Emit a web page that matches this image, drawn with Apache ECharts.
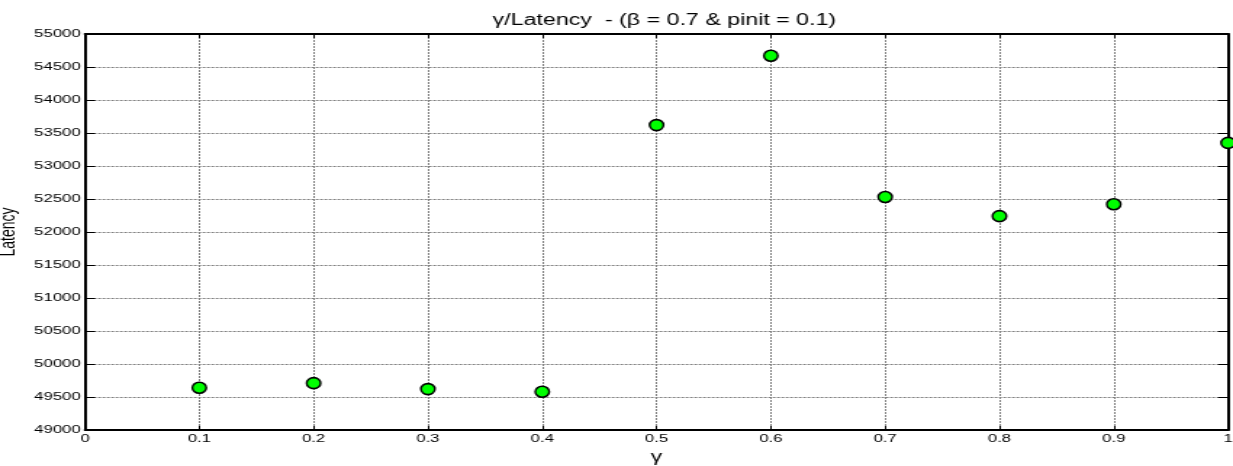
<!DOCTYPE html>
<html>
<head>
<meta charset="utf-8">
<script src="https://cdn.jsdelivr.net/npm/echarts@6/dist/echarts.min.js"></script>
<style>
html,body{margin:0;padding:0;background:#fff;overflow:hidden;}
/* the figure is drawn on a narrower canvas and stretched horizontally */
#chart{width:850px;height:466px;transform:scaleX(1.4506);transform-origin:0 0;}
</style>
</head>
<body>
<div id="chart"></div>
<script>
// Latency measured for each γ value (β = 0.7, pinit = 0.1)
const gammaValues = [0.1, 0.2, 0.3, 0.4, 0.5, 0.6, 0.7, 0.8, 0.9, 1.0];
const latencyValues = [49640, 49710, 49620, 49580, 53620, 54670, 52530, 52240, 52420, 53350];

const font = 'Liberation Sans, Arial, sans-serif';
const chart = echarts.init(document.getElementById('chart'));

const gridLine = { show: true, lineStyle: { color: '#808080', width: 1, type: [2, 1] } };
const axisLine = { show: true, onZero: false, lineStyle: { color: '#000', width: 2 } };
const tick = len => ({ show: true, inside: true, length: len, lineStyle: { color: '#000', width: 1 } });

chart.setOption({
  animation: false,
  backgroundColor: '#fff',
  title: {
    text: 'γ/Latency  - (β = 0.7 & pinit = 0.1)',
    left: 453, top: 8, textAlign: 'center',
    textStyle: { fontFamily: font, fontSize: 16, fontWeight: 'normal', color: '#000' }
  },
  grid: { left: 58.6, right: 3.4, top: 34, bottom: 36, containLabel: false, outerBoundsMode: 'none' },
  xAxis: [{
    type: 'value', min: 0, max: 1, interval: 0.1,
    name: 'γ', nameLocation: 'middle', nameGap: 16,
    nameTextStyle: { fontFamily: font, fontSize: 16, color: '#000' },
    axisLine: axisLine,
    axisTick: tick(4),
    axisLabel: { fontFamily: font, fontSize: 11.5, color: '#000', margin: 3,
      formatter: v => (Math.round(v * 10) / 10).toString() },
    splitLine: gridLine
  }, {
    type: 'value', min: 0, max: 1, interval: 0.1, position: 'top',
    axisLine: axisLine,
    axisTick: tick(4),
    axisLabel: { show: false }, splitLine: { show: false }
  }],
  yAxis: [{
    type: 'value', min: 49000, max: 55000, interval: 500,
    name: 'Latency', nameLocation: 'middle', nameGap: 42,
    nameTextStyle: { fontFamily: font, fontSize: 14, color: '#000' },
    axisLine: axisLine,
    axisTick: tick(7),
    axisLabel: { fontFamily: font, fontSize: 11.5, color: '#000', margin: 3,
      formatter: v => String(v) },
    splitLine: gridLine
  }, {
    type: 'value', min: 49000, max: 55000, interval: 500, position: 'right',
    axisLine: axisLine,
    axisTick: tick(7),
    axisLabel: { show: false }, splitLine: { show: false }
  }],
  series: [{
    type: 'scatter',
    data: gammaValues.map((g, i) => [g, latencyValues[i]]),
    symbol: 'circle',
    symbolSize: [9.6, 11],
    itemStyle: { color: '#00ff00', borderColor: '#000', borderWidth: 1.5, opacity: 1 },
    clip: false,
    z: 10
  }]
});
</script>
</body>
</html>
